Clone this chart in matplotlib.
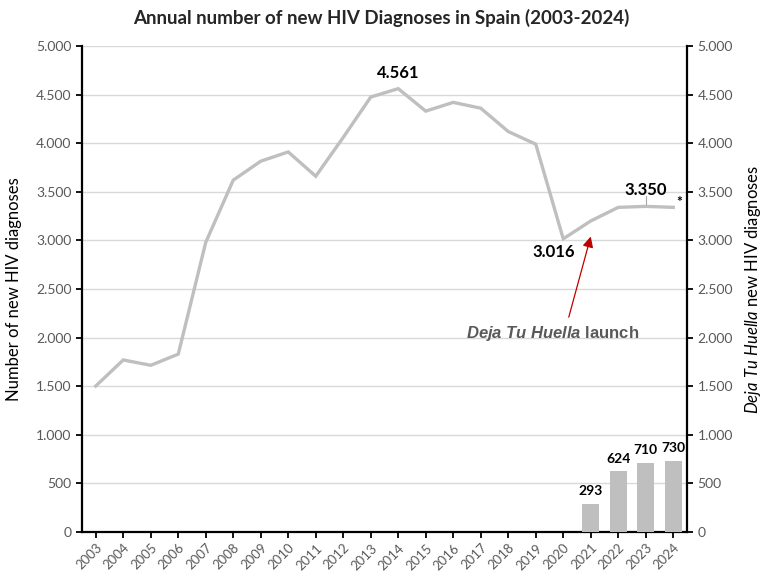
import matplotlib
matplotlib.use("Agg")
import matplotlib.pyplot as plt
from matplotlib.ticker import FuncFormatter, MultipleLocator

years = list(range(2003, 2025))
diagnoses = [1502, 1770, 1715, 1830, 2980, 3620, 3815, 3910, 3660, 4060,
             4475, 4561, 4330, 4420, 4360, 4120, 3990, 3016, 3200, 3340,
             3350, 3340]
dth_years = [2021, 2022, 2023, 2024]
dth_values = [293, 624, 710, 730]

plt.rcParams['font.family'] = ['Lato', 'DejaVu Sans']
plt.rcParams['mathtext.fontset'] = 'custom'
plt.rcParams['mathtext.rm'] = 'Lato'
plt.rcParams['mathtext.it'] = 'Lato:italic'
plt.rcParams['mathtext.bf'] = 'Liberation Sans:bold'
plt.rcParams['mathtext.bfit'] = 'Liberation Sans:bold:italic'

GREY = '#bfbfbf'
TICKC = '#595959'

fig = plt.figure(figsize=(7.67, 5.73), dpi=100)
ax = fig.add_axes([82/767, 41/573, (687-82)/767, (532-46)/573])
ax2 = ax.twinx()

ax.set_xlim(2002.5, 2024.5)
ax.set_ylim(0, 5000)
ax2.set_ylim(0, 5000)

ax.yaxis.set_major_locator(MultipleLocator(500))
ax2.yaxis.set_major_locator(MultipleLocator(500))
fmt = FuncFormatter(lambda v, p: f"{int(v):,}".replace(",", "."))
ax.yaxis.set_major_formatter(fmt)
ax2.yaxis.set_major_formatter(fmt)
ax.grid(axis='y', color='#d9d9d9', linewidth=1)
ax.set_axisbelow(True)

ax2.bar(dth_years, dth_values, width=0.62, color=GREY, zorder=2)
for x, v in zip(dth_years, dth_values):
    ax2.text(x, v + 70, str(v), ha='center', va='bottom', fontsize=10,
             fontweight='bold', color='black')

ax2.plot(years, diagnoses, color=GREY, linewidth=2.4, zorder=3,
         solid_joinstyle='miter')

ax2.text(2014, 4640, "4.561", ha='center', va='bottom', fontsize=12,
         fontweight='bold')
ax2.text(2019.65, 2960, "3.016", ha='center', va='top', fontsize=12,
         fontweight='bold')
ax2.text(2023.0, 3440, "3.350", ha='center', va='bottom', fontsize=12,
         fontweight='bold')
ax2.plot([2023.0, 2023.0], [3350, 3460], color='#a6a6a6', linewidth=0.8)
ax2.text(2024.1, 3330, "*", ha='left', va='bottom', fontsize=10,
         fontweight='bold')

ax2.annotate("", xy=(2021.0, 3040), xytext=(2020.2, 2210),
             arrowprops=dict(arrowstyle='-|>', color='#c00000', lw=0.9,
                             mutation_scale=16, shrinkA=0, shrinkB=0))
ax2.text(2019.6, 2040, r"$\mathbfit{Deja\ Tu\ Huella}$ launch", ha='center',
         va='center', fontsize=12, fontweight='bold', color=TICKC,
         family='Liberation Sans')

ax.set_xticks(years)
ax.set_xticklabels([str(y) for y in years], rotation=45, ha='right',
                   rotation_mode='anchor', fontsize=9.5, color=TICKC)
for a in (ax, ax2):
    a.tick_params(axis='y', labelsize=10, labelcolor=TICKC, length=4,
                  width=1.3, color='black')
ax.tick_params(axis='x', length=4, width=1.3, pad=3)

for s in ['top']:
    ax.spines[s].set_visible(False)
    ax2.spines[s].set_visible(False)
for a in (ax, ax2):
    for s in ['left', 'right', 'bottom']:
        a.spines[s].set_linewidth(1.6)
        a.spines[s].set_color('black')
ax.spines['right'].set_visible(False)
ax2.spines['left'].set_visible(False)
ax2.spines['bottom'].set_visible(False)

ax.set_ylabel("Number of new HIV diagnoses", fontsize=12, labelpad=10)
ax2.set_ylabel(r"$\it{Deja\ Tu\ Huella}$ new HIV diagnoses", fontsize=12,
               labelpad=7)

fig.suptitle("Annual number of new HIV Diagnoses in Spain (2003-2024)",
             fontsize=13.5, fontweight='bold', x=0.497, y=0.985, color='#262626')

fig.savefig("out.png", dpi=100)
